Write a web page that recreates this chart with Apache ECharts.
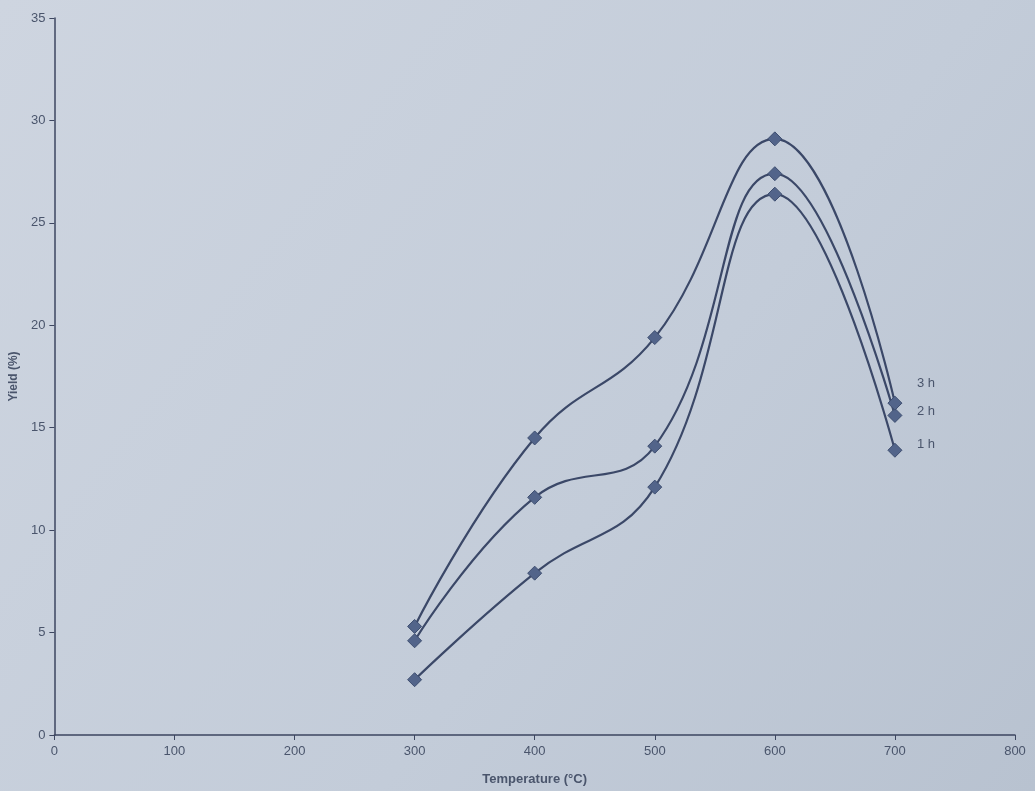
<!DOCTYPE html>
<html>
<head>
<meta charset="utf-8">
<script src="https://cdn.jsdelivr.net/npm/echarts@6/dist/echarts.min.js"></script>
<style>
html,body{margin:0;padding:0;background:#c6cfdb;}
#chart{width:1035px;height:791px;}
</style>
</head>
<body>
<div id="chart"></div>
<script>
const temperatures = [300, 400, 500, 600, 700];
const yield1h = [2.7, 7.9, 12.1, 26.4, 13.9];
const yield2h = [4.6, 11.6, 14.1, 27.4, 15.6];
const yield3h = [5.3, 14.5, 19.4, 29.1, 16.2];
const seriesNames = ['1 h', '2 h', '3 h'];
const xTicks = {min: 0, max: 800, interval: 100};
const yTicks = {min: 0, max: 35, interval: 5};

const lineColor = '#3b4868';
const markerColor = '#52648a';
const textColor = '#4a556c';
const fontFam = 'Liberation Sans, Arial, sans-serif';

function pairs(ys){ return temperatures.map((t,i)=>[t, ys[i]]); }

function mk(name, ys, off){
  return {
    name: name,
    type: 'line',
    data: pairs(ys),
    smooth: 0.45,
    symbol: 'diamond',
    symbolSize: 14,
    lineStyle: {color: lineColor, width: 2.2},
    itemStyle: {color: markerColor, borderColor: '#3e4e70', borderWidth: 1},
    endLabel: {
      show: true,
      formatter: name,
      color: textColor,
      fontSize: 13,
      fontFamily: fontFam,
      offset: off
    },
    z: 3
  };
}

const chart = echarts.init(document.getElementById('chart'));
chart.setOption({
  backgroundColor: {
    type: 'linear', x: 0, y: 0, x2: 1, y2: 1,
    colorStops: [{offset: 0, color: '#ced5e0'}, {offset: 0.6, color: '#c3ccd9'}, {offset: 1, color: '#b8c2d0'}]
  },
  animation: false,
  grid: {left: 53, right: 20, top: 18, bottom: 56},
  xAxis: {
    type: 'value',
    min: xTicks.min, max: xTicks.max, interval: xTicks.interval,
    name: 'Temperature (°C)',
    nameLocation: 'middle',
    nameGap: 38,
    nameTextStyle: {color: textColor, fontSize: 13, fontWeight: 'bold', fontFamily: fontFam},
    axisLine: {lineStyle: {color: '#3d4660', width: 1.5}},
    axisTick: {length: 5, lineStyle: {color: '#3d4660'}},
    axisLabel: {color: textColor, fontSize: 13, margin: 10, fontFamily: fontFam},
    splitLine: {show: false}
  },
  yAxis: {
    type: 'value',
    min: yTicks.min, max: yTicks.max, interval: yTicks.interval,
    name: 'Yield (%)',
    nameLocation: 'middle',
    nameGap: 34,
    nameTextStyle: {color: textColor, fontSize: 12, fontWeight: 'bold', fontFamily: fontFam},
    axisLine: {show: true, lineStyle: {color: '#3d4660', width: 1.5}},
    axisTick: {show: true, length: 5, lineStyle: {color: '#3d4660'}},
    axisLabel: {color: textColor, fontSize: 13, margin: 9, fontFamily: fontFam},
    splitLine: {show: false}
  },
  series: [
    mk(seriesNames[0], yield1h, [14, -6]),
    mk(seriesNames[1], yield2h, [14, -4]),
    mk(seriesNames[2], yield3h, [14, -20])
  ]
});
</script>
</body>
</html>
